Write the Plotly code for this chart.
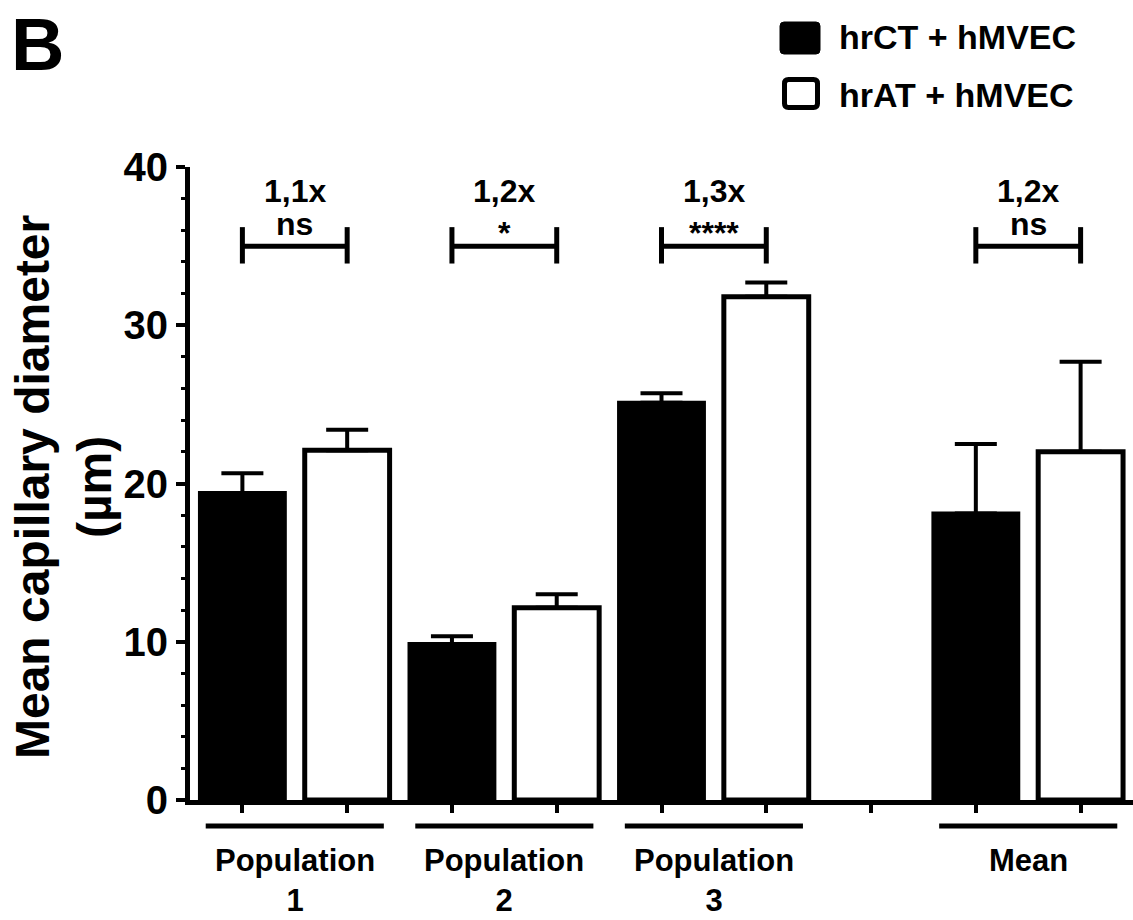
import plotly.graph_objects as go

# ---------------- data ----------------
groups = ["Population<br>1", "Population<br>2", "Population<br>3", "Mean"]
ct_mean = [19.4, 9.85, 25.1, 18.1]     # hrCT + hMVEC
ct_sem = [1.25, 0.5, 0.6, 4.4]
at_mean = [22.1, 12.15, 31.8, 22.0]    # hrAT + hMVEC
at_sem = [1.3, 0.85, 0.9, 5.7]
fold_labels = ["1,1x", "1,2x", "1,3x", "1,2x"]
sig_labels = ["ns", "*", "****", "ns"]
series_names = ["hrCT + hMVEC", "hrAT + hMVEC"]
y_ticks = [0, 10, 20, 30, 40]

# ---------------- layout helpers ----------------
W_FIG, H_FIG = 1133, 920
L, T, R, B = 190, 167, 0, 120
PW, PH = W_FIG - L - R, H_FIG - T - B

def pxx(px):
    return (px - L) / PW

def pyy(py):
    return (T + PH - py) / PH

# slot positions: pairs of bars, one empty slot before "Mean"
ct_x = [2 * i + (1 if i == 3 else 0) for i in range(len(groups))]
at_x = [x + 1 for x in ct_x]
n_slots = at_x[-1] + 1

def dx2paper(x):
    return (x + 0.5) / n_slots

FONT = "Liberation Sans, Arial, Helvetica, sans-serif"
BAR_W = 0.81

fig = go.Figure()
fig.add_trace(go.Bar(
    x=ct_x, y=ct_mean, width=BAR_W, name=series_names[0],
    marker=dict(color="black", line=dict(color="black", width=4)),
    error_y=dict(type="data", array=ct_sem, arrayminus=[0] * 4, symmetric=False,
                 color="black", thickness=4, width=21),
    showlegend=False,
))
fig.add_trace(go.Bar(
    x=at_x, y=at_mean, width=BAR_W, name=series_names[1],
    marker=dict(color="white", line=dict(color="black", width=5)),
    error_y=dict(type="data", array=at_sem, arrayminus=[0] * 4, symmetric=False,
                 color="black", thickness=4, width=21),
    showlegend=False,
))

shapes = []
annotations = []

# significance brackets + labels
for i in range(len(groups)):
    x0, x1 = ct_x[i], at_x[i]
    lw = 5
    shapes.append(dict(type="line", xref="x", yref="y", x0=x0, x1=x1, y0=35.0, y1=35.0,
                       line=dict(color="black", width=lw)))
    for xx in (x0, x1):
        shapes.append(dict(type="line", xref="x", yref="y", x0=xx, x1=xx, y0=33.9, y1=36.2,
                           line=dict(color="black", width=lw)))
    xm = (x0 + x1) / 2
    annotations.append(dict(x=xm, y=38.5, xref="x", yref="y", text=fold_labels[i],
                            showarrow=False, xanchor="center", yanchor="middle",
                            font=dict(family=FONT, size=32, color="black", weight="bold")))
    is_star = sig_labels[i].startswith("*")
    annotations.append(dict(x=xm, y=(35.85 if is_star else 36.4), xref="x", yref="y",
                            text=sig_labels[i],
                            showarrow=False, xanchor="center", yanchor="middle",
                            font=dict(family=FONT, size=32, color="black", weight="bold")))
    # group underline + label below the axis
    shapes.append(dict(type="line", xref="paper", yref="paper",
                       x0=dx2paper(xm - 0.85), x1=dx2paper(xm + 0.85),
                       y0=pyy(826), y1=pyy(826),
                       line=dict(color="black", width=5)))
    annotations.append(dict(x=dx2paper(xm), y=pyy(841), xref="paper", yref="paper",
                            text=groups[i], showarrow=False, xanchor="center", yanchor="top",
                            font=dict(family=FONT, size=31, color="black", weight="bold")))

# legend (drawn manually)
def rounded_box(x0, y0, x1, y1, r=4):
    X = lambda p: pxx(p)
    Y = lambda p: pyy(p)
    return (f"M {X(x0 + r)},{Y(y0)} L {X(x1 - r)},{Y(y0)} Q {X(x1)},{Y(y0)} {X(x1)},{Y(y0 + r)} "
            f"L {X(x1)},{Y(y1 - r)} Q {X(x1)},{Y(y1)} {X(x1 - r)},{Y(y1)} "
            f"L {X(x0 + r)},{Y(y1)} Q {X(x0)},{Y(y1)} {X(x0)},{Y(y1 - r)} "
            f"L {X(x0)},{Y(y0 + r)} Q {X(x0)},{Y(y0)} {X(x0 + r)},{Y(y0)} Z")

shapes.append(dict(type="path", xref="paper", yref="paper", path=rounded_box(780, 22, 820, 54),
                   fillcolor="black", line=dict(color="black", width=1)))
shapes.append(dict(type="path", xref="paper", yref="paper", path=rounded_box(784.5, 79.5, 817.5, 107.5),
                   fillcolor="white", line=dict(color="black", width=5)))
for name, yc in zip(series_names, (37, 95)):
    annotations.append(dict(x=pxx(837), y=pyy(yc), xref="paper", yref="paper", text=name,
                            showarrow=False, xanchor="left", yanchor="middle",
                            font=dict(family=FONT, size=34, color="black", weight="bold")))

# panel letter
annotations.append(dict(x=pxx(9), y=pyy(1), xref="paper", yref="paper", text="B",
                        showarrow=False, xanchor="left", yanchor="top",
                        font=dict(family=FONT, size=74, color="black", weight="bold")))

# y-axis title
annotations.append(dict(x=pxx(63), y=pyy(487), xref="paper", yref="paper",
                        text="Mean capillary diameter<br>(µm)", textangle=-90,
                        showarrow=False, xanchor="center", yanchor="middle",
                        font=dict(family=FONT, size=48, color="black", weight="bold")))

fig.update_layout(
    width=W_FIG, height=H_FIG,
    margin=dict(l=L, r=R, t=T, b=B, autoexpand=False),
    paper_bgcolor="white", plot_bgcolor="white",
    barmode="overlay",
    showlegend=False,
    shapes=shapes, annotations=annotations,
    xaxis=dict(range=[-0.5, n_slots - 0.5], tickvals=list(range(n_slots)), showticklabels=False,
               ticks="outside", ticklen=8, tickwidth=4, tickcolor="black",
               showline=True, linewidth=5, linecolor="black", showgrid=False, zeroline=False),
    yaxis=dict(range=[0, 40], tickvals=y_ticks, ticks="outside", ticklen=9, tickwidth=4,
               tickcolor="black", showline=True, linewidth=5, linecolor="black",
               showgrid=False, zeroline=False,
               tickfont=dict(family=FONT, size=40, color="black", weight="bold"),
               minor=dict(dtick=2, ticks="outside", ticklen=4, tickwidth=3, tickcolor="black",
                          showgrid=False)),
)

fig.write_html("out.html", config={"displayModeBar": False},
               post_script="document.body.style.margin='0';document.body.style.overflow='hidden';")
